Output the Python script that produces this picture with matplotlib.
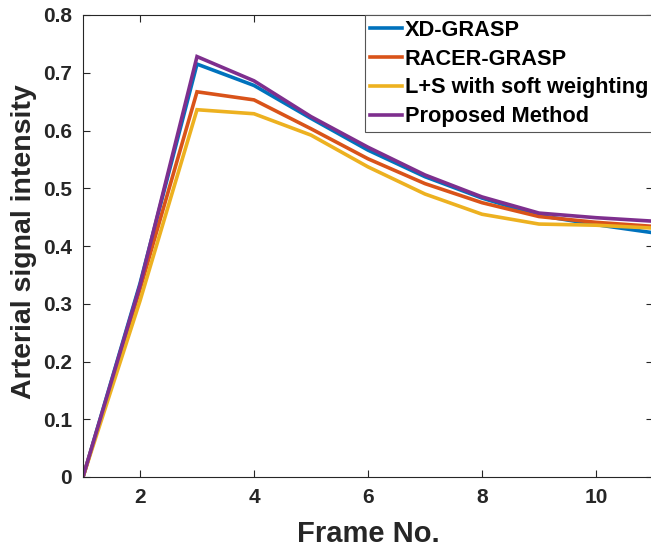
import matplotlib
matplotlib.use("Agg")
import matplotlib.pyplot as plt

plt.rcParams['font.family'] = ['Liberation Sans', 'DejaVu Sans']
plt.rcParams['font.weight'] = 'bold'

frames = [1, 2, 3, 4, 5, 6, 7, 8, 9, 10, 11]
xd_grasp = [0.0, 0.335, 0.715, 0.678, 0.621, 0.566, 0.520, 0.483, 0.453, 0.437, 0.423]
racer_grasp = [0.0, 0.325, 0.667, 0.653, 0.603, 0.551, 0.508, 0.475, 0.451, 0.441, 0.434]
ls_soft = [0.0, 0.305, 0.636, 0.629, 0.592, 0.537, 0.490, 0.455, 0.438, 0.436, 0.431]
proposed = [0.0, 0.332, 0.728, 0.686, 0.624, 0.571, 0.523, 0.485, 0.457, 0.449, 0.443]

series = [
    ("XD-GRASP", xd_grasp, "#0072BD"),
    ("RACER-GRASP", racer_grasp, "#D95319"),
    ("L+S with soft weighting", ls_soft, "#EDB120"),
    ("Proposed Method", proposed, "#7E2F8E"),
]

xticks = [2, 4, 6, 8, 10]
yticks = [0, 0.1, 0.2, 0.3, 0.4, 0.5, 0.6, 0.7, 0.8]
ytick_labels = ["0", "0.1", "0.2", "0.3", "0.4", "0.5", "0.6", "0.7", "0.8"]

fig = plt.figure(figsize=(6.51, 5.48), dpi=100)
ax = fig.add_axes([83/651, 1-477/548, 570/651, 462/548])

for name, vals, col in series:
    ax.plot(frames, vals, color=col, lw=2.6, label=name, solid_joinstyle='miter')

ax.set_xlim(1, 11)
ax.set_ylim(0, 0.8)
ax.set_xticks(xticks)
ax.set_yticks(yticks)
ax.set_yticklabels(ytick_labels)
ax.tick_params(direction='in', length=5, width=0.8, color='#262626',
               labelsize=15, labelcolor='#262626', top=True, right=True, pad=8)
for lab in ax.get_xticklabels() + ax.get_yticklabels():
    lab.set_fontweight('bold')
for s in ax.spines.values():
    s.set_color('#262626')
    s.set_linewidth(0.8)

ax.set_xlabel("Frame No.", fontsize=21, fontweight='bold', color='#262626', labelpad=9)
ax.set_ylabel("Arterial signal intensity", fontsize=20.5, fontweight='bold', color='#262626')
ax.yaxis.set_label_coords(-0.08, 0.51)

leg = ax.legend(loc='upper right', borderaxespad=0, prop={'weight': 'bold', 'size': 15.7},
                fancybox=False, framealpha=1, edgecolor='#555555', handlelength=1.45,
                handletextpad=0.15, labelspacing=0.36, borderpad=0.22)
leg.get_frame().set_linewidth(0.8)
for line in leg.get_lines():
    line.set_linewidth(2.6)

fig.savefig("out.png", dpi=100)
